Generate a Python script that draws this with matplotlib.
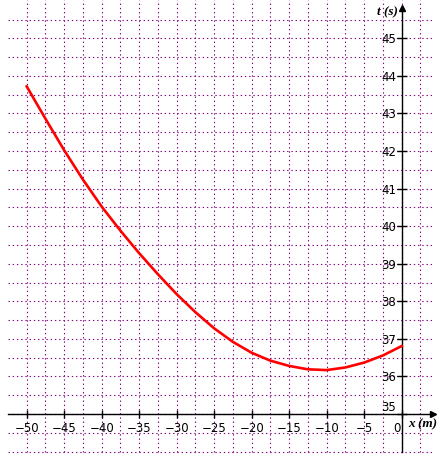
import matplotlib
matplotlib.use("Agg")
import matplotlib.pyplot as plt
from matplotlib.transforms import ScaledTranslation

# ---- data ----
x_m = [-50, -47.5, -45, -42.5, -40, -37.5, -35, -32.5, -30, -27.5, -25,
       -22.5, -20, -17.5, -15, -12.5, -10, -7.5, -5, -2.5, 0]
t_s = [43.72, 42.86, 42.02, 41.24, 40.52, 39.88, 39.28, 38.72, 38.19, 37.71,
       37.28, 36.92, 36.63, 36.42, 36.28, 36.19, 36.17, 36.24, 36.37, 36.56,
       36.81]

xtick_vals = [-50, -45, -40, -35, -30, -25, -20, -15, -10, -5, 0]
xtick_labels = ["\u221250", "\u221245", "\u221240", "\u221235", "\u221230",
                "\u221225", "\u221220", "\u221215", "\u221210", "\u22125", "0"]
ytick_vals = [35, 36, 37, 38, 39, 40, 41, 42, 43, 44, 45]
ytick_labels = [str(v) for v in ytick_vals]

x_grid = [-50 + 2.5 * i for i in range(22)]      # -50 .. 2.5
t_grid = [34 + 0.5 * i for i in range(24)]       # 34 .. 45.5

fig = plt.figure(figsize=(4.44, 4.58), dpi=100)
ax = fig.add_axes([0, 0, 1, 1])
ax.set_xlim(-53.56, 5.64)
ax.set_ylim(33.83, 46.02)
ax.set_facecolor("white")

grid_kw = dict(color="#800080", lw=0.8, linestyle=(0, (1.2, 2.6)), zorder=1)
ax.vlines(x_grid, 34, 46.02, **grid_kw)
ax.hlines(t_grid, -52.5, 4.2, **grid_kw)

# axes through origin (x axis at t=35)
for s in ["top", "right"]:
    ax.spines[s].set_visible(False)
ax.spines["left"].set_position(("data", 0))
ax.spines["bottom"].set_position(("data", 35))
ax.spines["left"].set_bounds(34, 45.82)
ax.spines["bottom"].set_bounds(-52.5, 4.3)
for s in ["left", "bottom"]:
    ax.spines[s].set_linewidth(1.0)
    ax.spines[s].set_zorder(3)
ax.plot([4.2], [35], marker=">", ms=5, color="black", clip_on=False, zorder=4)
ax.plot([0], [45.80], marker="^", ms=5, color="black", clip_on=False, zorder=4)

ax.set_xticks(xtick_vals)
ax.set_xticklabels(xtick_labels)
ax.set_yticks(ytick_vals)
ax.set_yticklabels(ytick_labels)
ax.tick_params(axis="x", direction="inout", length=6, width=1.0, pad=3.0,
               labelsize=8.5, colors="black")
ax.tick_params(axis="y", direction="inout", length=7, width=1.0, pad=0.5,
               labelsize=8.5, colors="black")

# shift the "0" x label left of the y axis and the "35" label above the x axis
xl = ax.get_xticklabels()
xl[-1].set_transform(xl[-1].get_transform() +
                     ScaledTranslation(-4.5 / 100, 0, fig.dpi_scale_trans))
yl = ax.get_yticklabels()
yl[0].set_transform(yl[0].get_transform() +
                    ScaledTranslation(0, 8.5 / 100, fig.dpi_scale_trans))

ax.plot(x_m, t_s, color="red", lw=1.9, zorder=5, solid_joinstyle="round")

lab_kw = dict(fontfamily="Liberation Serif", fontstyle="italic",
              fontweight="bold", fontsize=9.5, color="black")
ax.text(-0.5, 45.69, "t (s)", ha="right", va="center", **lab_kw)
ax.text(0.8, 34.72, "x (m)", ha="left", va="center", **lab_kw)

fig.savefig("out.png", dpi=100)
